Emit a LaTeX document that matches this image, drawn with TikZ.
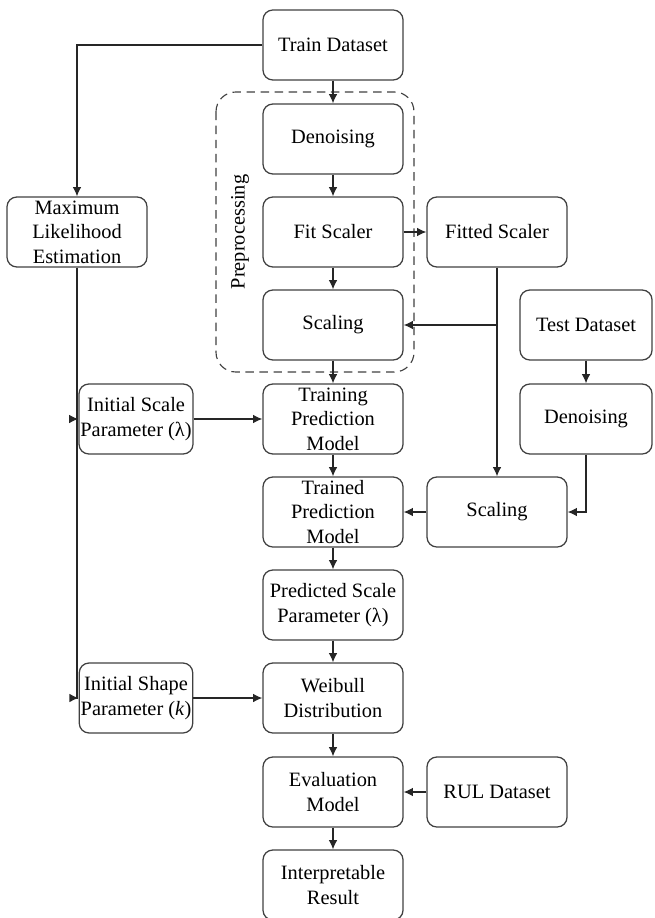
\documentclass[tikz,border=0pt]{standalone}
\usepackage{fontspec}
\setmainfont{Liberation Serif}
\newfontfamily\boxfont{Liberation Serif}
\usetikzlibrary{arrows.meta}
\begin{document}
\begin{tikzpicture}[x=0.025cm,y=-0.025cm,>={Latex[length=6.5pt,width=6pt]},
    box/.style={draw=black!75,line width=0.9pt,rounded corners=7pt,align=center,
      minimum width=3.5cm,minimum height=1.75cm,inner sep=1pt,
      font=\boxfont\fontsize{14.5}{17.5}\selectfont},
    small/.style={box,minimum width=2.8cm},
    flow/.style={->,draw=black!85,line width=0.8pt}]
    \useasboundingbox (0,0) rectangle (654,918);
    % main column
    \node[box] (train) at (333,45) {Train Dataset};
    \node[box] (den1) at (333,139) {Denoising};
    \node[box] (fit) at (333,232) {Fit Scaler};
    \node[box] (scal1) at (333,325) {Scaling};
    \node[box] (trn) at (333,419) {Training\\Prediction\\Model};
    \node[box] (trd) at (333,512) {Trained\\Prediction\\Model};
    \node[box] (pred) at (333,605) {Predicted Scale\\Parameter (λ)};
    \node[box] (weib) at (333,698) {Weibull\\Distribution};
    \node[box] (eval) at (333,792) {Evaluation\\Model};
    \node[box] (interp) at (333,885) {Interpretable\\Result};
    % left column
    \node[box] (mle) at (77,232) {Maximum\\Likelihood\\Estimation};
    \node[small] (iscale) at (136,419) {Initial Scale\\Parameter (λ)};
    \node[small] (ishape) at (136,698) {Initial Shape\\Parameter (\textit{k})};
    % right column
    \node[box] (fitted) at (497,232) {Fitted Scaler};
    \node[box,minimum width=3.3cm] (test) at (586,325) {Test Dataset};
    \node[box,minimum width=3.3cm] (den2) at (586,419) {Denoising};
    \node[box] (scal2) at (497,512) {Scaling};
    \node[box] (rul) at (497,792) {RUL Dataset};
    % preprocessing group
    \draw[black!75,line width=0.8pt,dash pattern=on 6pt off 4pt,rounded corners=14pt]
      (216,92) rectangle (414,372);
    \node[rotate=90,font=\boxfont\fontsize{14.5}{17.5}\selectfont] (prep) at (240,232) {Preprocessing};
    % connectors
    \draw[flow] (train) -- (den1);
    \draw[flow] (den1) -- (fit);
    \draw[flow] (fit) -- (scal1);
    \draw[flow] (scal1) -- (trn);
    \draw[flow] (trn) -- (trd);
    \draw[flow] (trd) -- (pred);
    \draw[flow] (pred) -- (weib);
    \draw[flow] (weib) -- (eval);
    \draw[flow] (eval) -- (interp);
    \draw[flow] (train.west) -| (mle.north);
    \draw[flow] (mle.south) |- (ishape.west);
    \coordinate (j1) at (mle.south |- iscale.west);
    \draw[flow] (j1) -- (iscale.west);
    \draw[flow] (iscale) -- (trn);
    \draw[flow] (ishape) -- (weib);
    \draw[flow] (fit) -- (fitted);
    \draw[flow] (fitted.south) -- (scal2.north);
    \coordinate (j2) at (fitted.south |- scal1.east);
    \draw[flow] (j2) -- (scal1.east);
    \draw[flow] (test) -- (den2);
    \draw[flow] (den2.south) |- (scal2.east);
    \draw[flow] (scal2) -- (trd);
    \draw[flow] (rul) -- (eval);
\end{tikzpicture}
\end{document}
